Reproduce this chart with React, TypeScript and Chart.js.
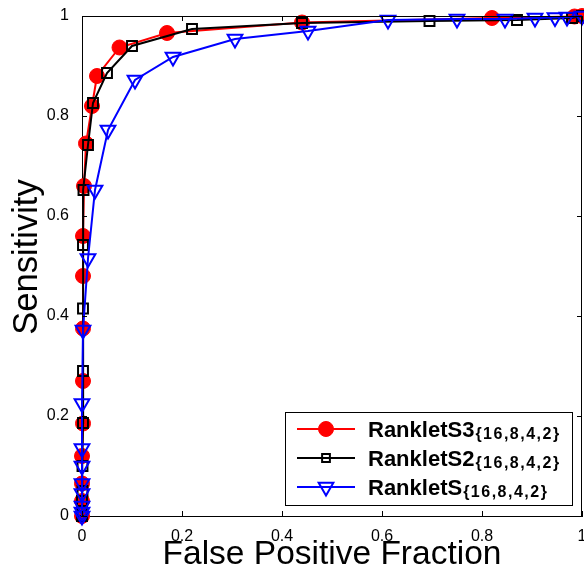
import React, { useEffect, useRef } from "react";
import { Chart, registerables } from "chart.js";

Chart.register(...registerables);

// ---- data ----
const xTickValues = [0, 0.2, 0.4, 0.6, 0.8, 1];
const xTickLabels = ["0", "0.2", "0.4", "0.6", "0.8", "1"];
const yTickValues = [0, 0.2, 0.4, 0.6, 0.8, 1];
const yTickLabels = ["0", "0.2", "0.4", "0.6", "0.8", "1"];

const xTitle = "False Positive Fraction";
const yTitle = "Sensitivity";

const s3FPF = [0, 0, 0, 0, 0.002, 0.002, 0.002, 0.002, 0.002, 0.004, 0.008, 0.02, 0.03, 0.075, 0.17, 0.44, 0.82, 0.985, 1];
const s3Sens = [0, 0.03, 0.065, 0.12, 0.185, 0.27, 0.375, 0.48, 0.56, 0.66, 0.745, 0.82, 0.88, 0.937, 0.966, 0.987, 0.996, 0.999, 1];

const s2FPF = [0, 0, 0, 0.001, 0.001, 0.002, 0.002, 0.002, 0.002, 0.003, 0.012, 0.022, 0.05, 0.1, 0.22, 0.44, 0.695, 0.87, 0.98, 1];
const s2Sens = [0, 0.01, 0.03, 0.05, 0.1, 0.186, 0.29, 0.415, 0.542, 0.652, 0.742, 0.826, 0.886, 0.94, 0.974, 0.986, 0.99, 0.992, 0.996, 1];

const sFPF = [0, 0, 0, 0, 0, 0, 0, 0, 0.002, 0.012, 0.026, 0.052, 0.106, 0.182, 0.306, 0.452, 0.612, 0.75, 0.846, 0.906, 0.946, 0.97, 1];
const sSens = [0, 0.008, 0.02, 0.045, 0.065, 0.1, 0.135, 0.225, 0.372, 0.515, 0.652, 0.772, 0.872, 0.918, 0.954, 0.97, 0.992, 0.994, 0.994, 0.996, 0.997, 0.998, 1];

const seriesNames = ["RankletS3", "RankletS2", "RankletS"];
const seriesSubs = ["{16,8,4,2}", "{16,8,4,2}", "{16,8,4,2}"];
const seriesColors = ["#ff0000", "#000000", "#0000ff"];

const FONT = "'Liberation Sans', Arial, Helvetica, sans-serif";

function toPoints(xs: number[], ys: number[]) {
  return xs.map((x, i) => ({ x, y: ys[i] }));
}

export default function App() {
  const canvasRef = useRef<HTMLCanvasElement | null>(null);

  useEffect(() => {
    const canvas = canvasRef.current;
    if (!canvas) return;

    const styles = [
      { pointStyle: "circle", radius: 7.5, bg: seriesColors[0], rot: 0, bw: 1 },
      { pointStyle: "rect", radius: 7, bg: "rgba(0,0,0,0)", rot: 0, bw: 2 },
      { pointStyle: "triangle", radius: 8.5, bg: "rgba(0,0,0,0)", rot: 180, bw: 2 },
    ];

    function drawMarker(ctx: CanvasRenderingContext2D, style: string, x: number, y: number, r: number, rot: number) {
      ctx.beginPath();
      if (style === "circle") {
        ctx.arc(x, y, r, 0, Math.PI * 2);
        ctx.fill();
        ctx.stroke();
      } else if (style === "rect") {
        const s = r * Math.SQRT1_2;
        ctx.rect(x - s, y - s, 2 * s, 2 * s);
        ctx.stroke();
      } else {
        const a = (rot * Math.PI) / 180;
        for (let k = 0; k < 3; k++) {
          const ang = a - Math.PI / 2 + (k * 2 * Math.PI) / 3;
          const px = x + r * Math.cos(ang);
          const py = y + r * Math.sin(ang);
          if (k === 0) ctx.moveTo(px, py);
          else ctx.lineTo(px, py);
        }
        ctx.closePath();
        ctx.stroke();
      }
    }

    const framePlugin = {
      id: "frameTicksLegend",
      afterDraw(chart: any) {
        const { ctx, chartArea } = chart;
        const xs = chart.scales.x;
        const ys = chart.scales.y;
        const { left, right, top, bottom } = chartArea;
        ctx.save();
        ctx.strokeStyle = "#000";
        ctx.lineWidth = 1;
        // box top/right
        ctx.beginPath();
        ctx.moveTo(left, top + 0.5);
        ctx.lineTo(right - 0.5, top + 0.5);
        ctx.lineTo(right - 0.5, bottom);
        ctx.stroke();
        // ticks inward
        const tl = 5;
        ctx.beginPath();
        xTickValues.forEach((v) => {
          const px = Math.round(xs.getPixelForValue(v)) + 0.5;
          ctx.moveTo(px, bottom);
          ctx.lineTo(px, bottom - tl);
          ctx.moveTo(px, top);
          ctx.lineTo(px, top + tl);
        });
        yTickValues.forEach((v) => {
          const py = Math.round(ys.getPixelForValue(v)) + 0.5;
          ctx.moveTo(left, py);
          ctx.lineTo(left + tl, py);
          ctx.moveTo(right, py);
          ctx.lineTo(right - tl, py);
        });
        ctx.stroke();

        // y axis title
        ctx.save();
        ctx.translate(27, 257);
        ctx.rotate(-Math.PI / 2);
        ctx.fillStyle = "#000";
        ctx.font = `34.5px ${FONT}`;
        ctx.textAlign = "center";
        ctx.textBaseline = "middle";
        ctx.fillText(yTitle, 0, 0);
        ctx.restore();

        // legend
        const bx = 285.5, by = 412.5, bw = 287, bh = 93;
        ctx.fillStyle = "#fff";
        ctx.fillRect(bx, by, bw, bh);
        ctx.strokeStyle = "#000";
        ctx.lineWidth = 1;
        ctx.strokeRect(bx, by, bw, bh);
        const rowsY = [429, 458, 487];
        seriesNames.forEach((name, i) => {
          const ry = rowsY[i];
          const st = styles[i];
          ctx.strokeStyle = seriesColors[i];
          ctx.lineWidth = 2;
          ctx.beginPath();
          ctx.moveTo(297, ry);
          ctx.lineTo(355, ry);
          ctx.stroke();
          ctx.fillStyle = st.bg;
          ctx.lineWidth = st.bw;
          drawMarker(ctx, st.pointStyle, 326, ry, i === 1 ? 5.5 : st.radius, st.rot);
          ctx.fillStyle = "#000";
          ctx.textBaseline = "alphabetic";
          ctx.textAlign = "left";
          ctx.font = `bold 22px ${FONT}`;
          ctx.fillText(name, 368, ry + 8);
          const w = ctx.measureText(name).width;
          ctx.font = `bold 16px ${FONT}`;
          (ctx as any).letterSpacing = "1.5px";
          ctx.fillText(seriesSubs[i], 368 + w + 1, ry + 10);
          (ctx as any).letterSpacing = "0px";
        });
        ctx.restore();
      },
    };

    const dataSets = [
      { xs: s3FPF, ys: s3Sens, order: 2 },
      { xs: s2FPF, ys: s2Sens, order: 1 },
      { xs: sFPF, ys: sSens, order: 0 },
    ].map((d, i) => ({
      label: seriesNames[i] + seriesSubs[i],
      data: toPoints(d.xs, d.ys),
      showLine: true,
      borderColor: seriesColors[i],
      borderWidth: 2,
      backgroundColor: styles[i].bg,
      pointStyle: styles[i].pointStyle,
      pointRadius: styles[i].radius,
      pointRotation: styles[i].rot,
      pointBorderColor: seriesColors[i],
      pointBackgroundColor: styles[i].bg,
      pointBorderWidth: styles[i].bw,
      pointHoverRadius: styles[i].radius,
      tension: 0,
      clip: false as any,
      order: d.order,
    }));

    const chart = new Chart(canvas, {
      type: "scatter",
      data: { datasets: dataSets as any },
      options: {
        responsive: false,
        animation: false,
        devicePixelRatio: 1,
        layout: { autoPadding: false, padding: { top: 16, right: 2, left: 0, bottom: 0 } },
        plugins: { legend: { display: false }, tooltip: { enabled: false } },
        scales: {
          x: {
            type: "linear",
            min: 0,
            max: 1,
            grid: { display: false, drawTicks: false },
            border: { display: true, color: "#000", width: 1 },
            afterBuildTicks: (s: any) => {
              s.ticks = xTickValues.map((v) => ({ value: v }));
            },
            afterFit: (s: any) => {
              s.height = 57;
              s.paddingLeft = 0;
              s.paddingRight = 0;
            },
            ticks: {
              autoSkip: false,
              maxRotation: 0,
              padding: 11,
              color: "#000",
              font: { family: FONT, size: 16 },
              callback: (_v: any, i: number) => xTickLabels[i],
            },
            title: {
              display: true,
              text: xTitle,
              color: "#000",
              font: { family: FONT, size: 33.5, lineHeight: 1 },
              padding: { top: 0, bottom: 1 },
            },
          },
          y: {
            type: "linear",
            min: 0,
            max: 1,
            grid: { display: false, drawTicks: false },
            border: { display: true, color: "#000", width: 1 },
            afterBuildTicks: (s: any) => {
              s.ticks = yTickValues.map((v) => ({ value: v }));
            },
            afterFit: (s: any) => {
              s.width = 82;
              s.paddingTop = 0;
              s.paddingBottom = 0;
            },
            ticks: {
              autoSkip: false,
              padding: 13,
              color: "#000",
              font: { family: FONT, size: 16 },
              callback: (_v: any, i: number) => yTickLabels[i],
            },
            title: { display: false },
          },
        },
      },
      plugins: [framePlugin],
    });

    return () => {
      chart.destroy();
    };
  }, []);

  return (
    <div style={{ position: "absolute", left: 0, top: 0, width: 584, height: 573, background: "#fff" }}>
      <canvas ref={canvasRef} width={584} height={573} style={{ display: "block", width: 584, height: 573 }} />
    </div>
  );
}
